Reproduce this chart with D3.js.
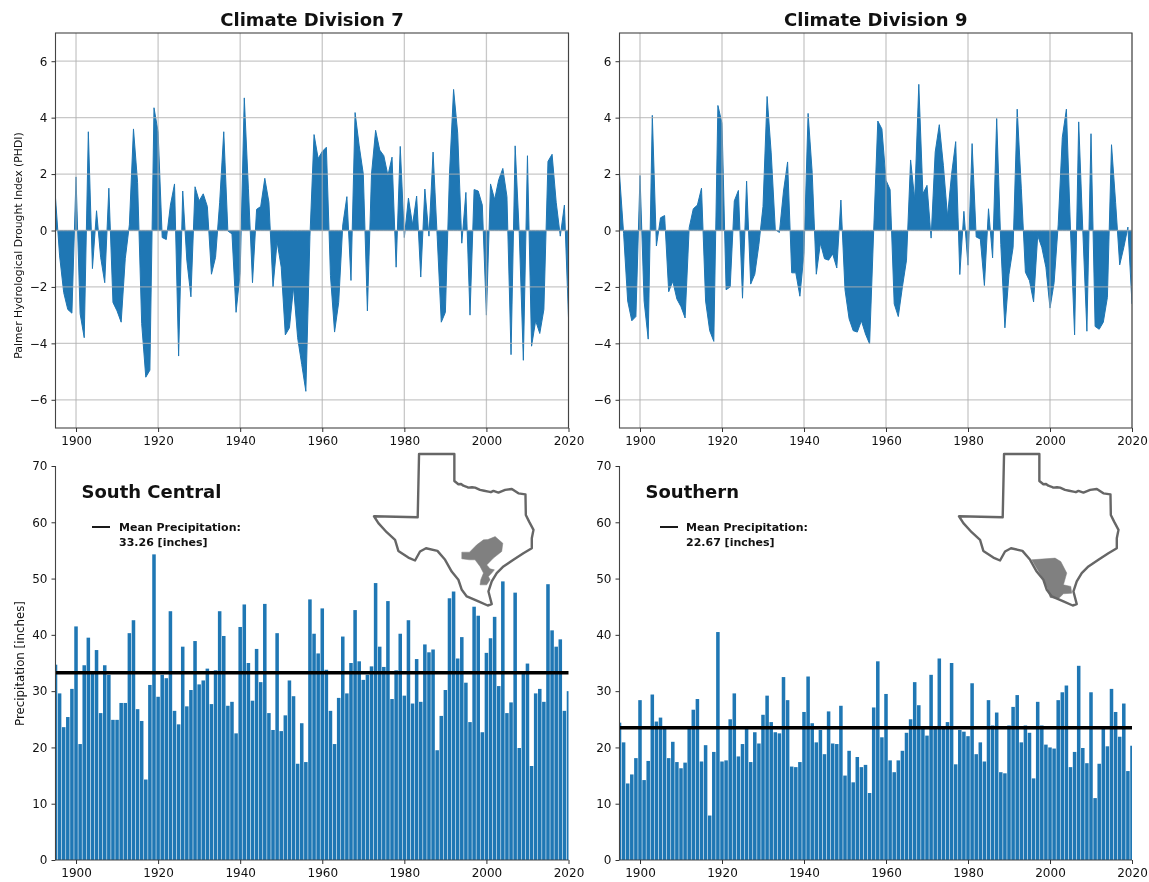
<!DOCTYPE html>
<html><head><meta charset="utf-8">
<script src="https://cdn.jsdelivr.net/npm/d3@7"></script>
<style>html,body{margin:0;padding:0;background:#fff}svg{display:block;filter:blur(0.5px)}text{font-family:"DejaVu Sans",sans-serif;fill:#111}</style>
</head><body><svg id="c" width="1149" height="882"></svg>
<script>
const firstYear = 1895;
const phdiDiv7 = [1.15,-0.9,-2.2,-2.8,-2.93,1.9,-2.95,-3.8,3.5,-1.35,0.7,-0.95,-1.85,1.5,-2.55,-2.85,-3.25,-1.0,0.2,3.6,1.7,-3.3,-5.2,-4.95,4.35,3.5,-0.25,-0.32,0.9,1.65,-4.45,1.4,-1.05,-2.35,1.55,1.05,1.3,0.85,-1.55,-0.95,1.0,3.5,-0.02,-0.12,-2.9,-1.5,4.7,1.5,-1.85,0.75,0.85,1.85,1.0,-2.0,-0.4,-1.3,-3.7,-3.45,-2.0,-3.8,-4.75,-5.7,-0.2,3.4,2.55,2.8,2.95,-1.6,-3.6,-2.55,0.2,1.2,-1.77,4.18,3.0,2.0,-2.85,2.0,3.55,2.85,2.65,1.95,2.6,-1.3,2.98,-0.25,1.15,0.2,1.22,-1.65,1.47,-0.2,2.78,-0.2,-3.25,-2.9,2.0,5.0,3.45,-0.45,1.35,-3.0,1.45,1.4,0.9,-3.0,1.65,1.1,1.8,2.2,1.2,-4.4,3.0,-0.1,-4.6,2.65,-4.1,-3.2,-3.65,-2.8,2.45,2.7,1.0,-0.2,0.9,-3.1];
const phdiDiv9 = [2.0,-0.1,-2.5,-3.2,-3.05,1.95,-2.5,-3.85,4.08,-0.55,0.45,0.53,-2.17,-1.8,-2.43,-2.7,-3.1,0.1,0.77,0.9,1.5,-2.5,-3.55,-3.93,4.43,3.8,-2.1,-2.0,1.05,1.42,-2.4,1.75,-1.9,-1.55,-0.5,0.85,4.75,2.75,0.03,-0.07,1.4,2.43,-1.5,-1.5,-2.33,-0.8,4.15,2.05,-1.55,-0.45,-1.0,-1.05,-0.83,-1.33,1.08,-2.1,-3.13,-3.55,-3.6,-3.2,-3.67,-4.02,0.0,3.88,3.6,1.78,1.45,-2.6,-3.05,-2.0,-1.05,2.5,1.1,5.18,1.3,1.6,-0.27,2.78,3.75,2.3,0.5,2.0,3.15,-1.56,0.68,-1.23,3.08,-0.23,-0.3,-1.95,0.77,-0.97,3.97,-0.5,-3.45,-1.55,-0.6,4.3,1.5,-1.48,-1.78,-2.53,-0.18,-0.6,-1.3,-2.75,-1.85,0.2,3.3,4.3,0.0,-3.7,3.85,0.0,-3.57,3.43,-3.4,-3.5,-3.25,-2.37,3.04,1.0,-1.22,-0.6,0.12,-2.6];
const precipSouthCentral = [34.7,29.6,23.6,25.4,30.4,41.5,20.6,34.6,39.5,33.5,37.3,26.1,34.6,32.9,24.9,24.9,27.9,27.9,40.3,42.6,26.8,24.7,14.3,31.1,54.3,29,32.9,32.3,44.2,26.5,24.1,37.9,27.3,30.2,38.9,31.2,31.9,34,27.7,33.7,44.2,39.8,27.4,28.1,22.5,41.4,45.4,35,28.3,37.5,31.6,45.5,26.1,23.1,40.3,22.9,25.7,31.9,29.1,17.1,24.3,17.4,46.3,40.2,36.7,44.7,33.8,26.5,20.6,28.8,39.7,29.6,35,44.4,35.3,32,32.9,34.4,49.2,37.9,34.3,46,28.6,33.7,40.2,29.2,42.6,27.8,35.7,28.1,38.3,36.9,37.4,19.5,25.6,30.2,46.5,47.7,35.8,39.6,31.5,24.5,45,43.4,22.7,36.8,39.4,43.2,30.9,49.5,26.1,28,47.5,19.9,33.2,34.9,16.7,29.6,30.4,28.1,49,40.8,37.9,39.2,26.5,30];
const precipSouthern = [24.4,20.9,13.6,15.2,18.1,28.4,14.2,17.6,29.4,24.6,25.3,23.8,18.1,21,17.4,16.3,17.3,23.4,26.7,28.6,17.5,20.4,7.9,19.2,40.5,17.5,17.7,25,29.6,18.4,20.6,23.3,17.4,22.7,20.7,25.8,29.2,24.5,22.7,22.5,32.5,28.4,16.6,16.5,17.4,26.3,32.6,24.3,20.9,23.1,18.8,26.4,20.7,20.6,27.4,15,19.4,13.8,18.3,16.5,16.9,11.9,27.1,35.3,21.8,29.5,17.7,15.6,17.7,19.4,22.6,25,31.6,27.5,23.4,22.1,32.9,23.4,35.8,23.4,24.5,35,17,23.1,22.8,22,31.4,18.8,20.9,17.5,28.4,23.9,26.2,15.6,15.4,23.9,27.2,29.3,20.9,23.9,22.6,14.5,28.1,23.9,20.5,20,19.8,28.4,29.8,31,16.5,19.2,34.5,19.9,17.2,29.8,11,17.1,23.4,20.2,30.4,26.3,21.9,27.8,15.8,20.3];
const meanLineValues = [33.26, 23.5];
const meanLabels = ["33.26 [inches]", "22.67 [inches]"];
const topTitles = ["Climate Division 7", "Climate Division 9"];
const regionNames = ["South Central", "Southern"];
const phdiTicks = [-6,-4,-2,0,2,4,6];
const precipTicks = [0,10,20,30,40,50,60,70];
const yearTicks = [1900,1920,1940,1960,1980,2000,2020];
const texasOutline = [[-102.95,36.5],[-100.05,36.5],[-100.05,34.59],[-99.72,34.36],[-99.5,34.38],[-99.31,34.26],[-99.1,34.2],[-98.9,34.12],[-98.6,34.15],[-98.35,34.12],[-97.94,33.96],[-97.6,33.9],[-97.25,33.84],[-97.05,33.8],[-96.84,33.89],[-96.43,33.77],[-95.88,33.96],[-95.33,34.03],[-94.79,33.72],[-94.21,33.65],[-94.18,32.19],[-93.91,31.72],[-93.55,31.14],[-93.69,30.55],[-93.69,29.84],[-94.38,29.49],[-95.2,29.02],[-96.02,28.55],[-96.57,28.08],[-96.98,27.49],[-97.25,26.78],[-96.98,25.89],[-97.31,25.79],[-98.07,26.08],[-99.03,26.43],[-99.44,26.9],[-99.72,27.61],[-100.27,28.19],[-100.81,29.02],[-101.44,29.65],[-102.38,29.84],[-102.87,29.61],[-103.28,28.97],[-103.83,29.18],[-104.65,29.65],[-104.92,30.43],[-105.61,30.97],[-106.29,31.61],[-106.65,32.1],[-103.06,32.03],[-102.95,36.5]];
const southCentralRegion = [[-97.66,30.43],[-97.3,30.45],[-96.7,30.66],[-96.07,30.19],[-96.16,29.61],[-96.84,29.14],[-97.39,28.66],[-97.12,28.38],[-96.76,28.31],[-96.98,28.08],[-97.25,27.84],[-97.12,27.61],[-97.39,27.25],[-97.94,27.25],[-97.88,27.61],[-97.66,28.08],[-97.94,28.55],[-98.35,29.02],[-98.81,29.02],[-99.44,29.09],[-99.44,29.56],[-98.81,29.56],[-98.21,30.08]];
const southernRegion = [[-100.68,29.02],[-98.76,29.14],[-98.29,28.9],[-97.8,28.08],[-98.07,27.25],[-97.47,27.14],[-97.39,26.66],[-98.07,26.62],[-98.49,26.26],[-99.17,26.36],[-99.39,27.02],[-99.86,27.84],[-100.27,28.43]];

const svg = d3.select("#c");
const BLUE = "#1f77b4";
const cols = [{l:55.5,r:568.5,leg:[36.5,54.5,63.5]},{l:619.5,r:1132,leg:[40.5,58.5,66.5]}];
const TOP = {t:33,b:428}, BOT = {t:466,b:860};
const defs = svg.append("defs");

function axes(g,x,y,yt){
  const ax = g.append("g").attr("transform",`translate(0,${y.range()[0]})`)
    .call(d3.axisBottom(x).tickValues(yearTicks).tickFormat(d3.format("d")).tickSize(4).tickPadding(4));
  const ay = g.append("g").attr("transform",`translate(${x.range()[0]},0)`)
    .call(d3.axisLeft(y).tickValues(yt).tickFormat(d=>String(d).replace("-","\u2212")).tickSize(4).tickPadding(4));
  [ax,ay].forEach(a=>{a.select(".domain").remove();
    a.selectAll("text").style("font-size","12px").style("font-family",'"DejaVu Sans"').attr("fill","#222");
    a.selectAll("line").attr("stroke","#333").attr("stroke-width",1);});
}

const phdi=[phdiDiv7,phdiDiv9], precip=[precipSouthCentral,precipSouthern], regions=[southCentralRegion,southernRegion];
cols.forEach((c,i)=>{
  const x=d3.scaleLinear().domain([firstYear,2020]).range([c.l,c.r]);
  const yT=d3.scaleLinear().domain([-7,7]).range([TOP.b,TOP.t]);
  const gT=svg.append("g");
  const clipT="ct"+i, clipB="cb"+i;
  defs.append("clipPath").attr("id",clipT).append("rect").attr("x",c.l).attr("y",TOP.t).attr("width",c.r-c.l).attr("height",TOP.b-TOP.t);
  defs.append("clipPath").attr("id",clipB).append("rect").attr("x",c.l).attr("y",BOT.t).attr("width",c.r-c.l).attr("height",BOT.b-BOT.t);
  const series=phdi[i].map((v,k)=>({year:firstYear+k,v}));
  gT.append("path").datum(series).attr("clip-path",`url(#${clipT})`).attr("fill",BLUE).attr("stroke",BLUE).attr("stroke-width",1).attr("stroke-linejoin","miter")
    .attr("d",d3.area().x(d=>x(d.year)).y0(yT(0)).y1(d=>yT(d.v)));
  gT.append("g").selectAll("line").data(yearTicks).join("line")
    .attr("x1",d=>x(d)).attr("x2",d=>x(d)).attr("y1",TOP.t).attr("y2",TOP.b)
    .attr("stroke","#b0b0b0").attr("stroke-opacity",0.7).attr("stroke-width",1.3);
  gT.append("g").selectAll("line").data(phdiTicks).join("line")
    .attr("x1",c.l).attr("x2",c.r).attr("y1",d=>yT(d)).attr("y2",d=>yT(d))
    .attr("stroke","#b0b0b0").attr("stroke-opacity",0.7).attr("stroke-width",1.3);
  gT.append("rect").attr("x",c.l).attr("y",TOP.t).attr("width",c.r-c.l).attr("height",TOP.b-TOP.t)
    .attr("fill","none").attr("stroke","#444").attr("stroke-width",1.1);
  axes(gT,x,yT,phdiTicks);
  gT.append("text").attr("x",(c.l+c.r)/2).attr("y",26).attr("text-anchor","middle")
    .style("font-size","18px").style("font-weight","bold").text(topTitles[i]);

  const yB=d3.scaleLinear().domain([0,70]).range([BOT.b,BOT.t]);
  const gB=svg.append("g");
  const bw=x(1.0+firstYear)-x(firstYear);
  gB.append("g").attr("clip-path",`url(#${clipB})`).selectAll("rect").data(precip[i]).join("rect")
    .attr("x",(d,k)=>x(firstYear+k)-bw*0.43).attr("width",bw*0.86)
    .attr("y",d=>yB(d)).attr("height",d=>yB(0)-yB(d)).attr("fill",BLUE);
  gB.append("line").attr("x1",c.l).attr("x2",c.r).attr("y1",yB(meanLineValues[i])).attr("y2",yB(meanLineValues[i]))
    .attr("stroke","#000").attr("stroke-width",3.4);
  gB.append("line").attr("x1",c.l).attr("x2",c.l).attr("y1",BOT.t).attr("y2",BOT.b).attr("stroke","#444").attr("stroke-width",1.1);
  gB.append("line").attr("x1",c.l).attr("x2",c.r).attr("y1",BOT.b).attr("y2",BOT.b).attr("stroke","#444").attr("stroke-width",1.1);
  axes(gB,x,yB,precipTicks);
  gB.append("text").attr("x",c.l+26).attr("y",498).style("font-size","18px").style("font-weight","bold").text(regionNames[i]);
  gB.append("line").attr("x1",c.l+c.leg[0]).attr("x2",c.l+c.leg[1]).attr("y1",527).attr("y2",527).attr("stroke","#000").attr("stroke-width",1.8);
  gB.append("text").attr("x",c.l+c.leg[2]).attr("y",531).style("font-size","11px").style("font-weight","bold").text("Mean Precipitation:");
  gB.append("text").attr("x",c.l+c.leg[2]).attr("y",546).style("font-size","11px").style("font-weight","bold").text(meanLabels[i]);
  const off=i===0?0:585;
  const mx=d3.scaleLinear().domain([-106.65,-93.55]).range([374+off,533.5+off]);
  const my=d3.scaleLinear().domain([36.5,25.79]).range([454,605.5]);
  const shape=d3.line().x(d=>mx(d[0])).y(d=>my(d[1]));
  gB.append("path").attr("d",shape(regions[i])+"Z").attr("fill","#808080").attr("stroke","#808080").attr("stroke-width",0.5);
  gB.append("path").attr("d",shape(texasOutline)+"Z").attr("fill","none").attr("stroke","#666").attr("stroke-width",2.4).attr("stroke-linejoin","round");
});
svg.append("text").attr("transform","translate(22,245.5) rotate(-90)").attr("text-anchor","middle").style("font-size","10.8px").attr("fill","#222").text("Palmer Hydrological Drought Index (PHDI)");
svg.append("text").attr("transform","translate(24,663.5) rotate(-90)").attr("text-anchor","middle").style("font-size","11.8px").attr("fill","#222").text("Precipitation [inches]");
</script></body></html>
